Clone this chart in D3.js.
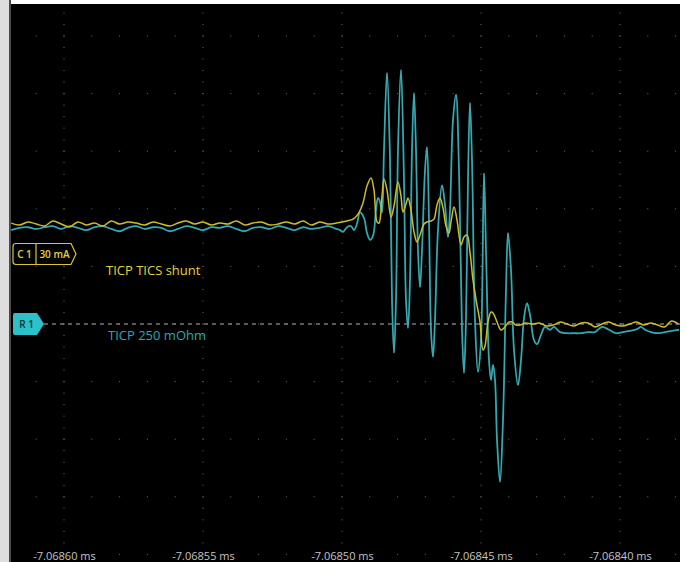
<!DOCTYPE html>
<html>
<head>
<meta charset="utf-8">
<script src="https://cdn.jsdelivr.net/npm/d3@7/dist/d3.min.js"></script>
<style>
  html, body { margin: 0; padding: 0; background: #ffffff; }
  svg { display: block; }
</style>
</head>
<body>
<script>
// Time origin of the record and the horizontal tick labels (ms)
const originMs = -7.06860;
const tickMs = [-7.06860, -7.06855, -7.06850, -7.06845, -7.06840];

// Channel 1: TICP TICS shunt, time in ns after originMs, current in mA (30 mA/div)
const shuntT = [
  -19, -16, -13, -10, -7, -4, -1, 2, 5, 8, 11, 14, 17, 20, 23, 26, 29, 32, 35, 38,
  41, 44, 47, 50, 53, 56, 59, 62, 65, 68, 71, 74, 77, 80, 83, 86, 89, 92, 95, 98,
  101.8, 103.96, 105.76, 107.55, 108.99, 110.43, 111.51, 112.59, 113.31, 114.39,
  115.11, 116.19, 117.63, 118.71, 120.14, 121.22, 121.94, 123.02, 123.74, 124.82,
  125.9, 126.98, 128.06, 129.5, 130.58, 132.01, 133.09, 134.17, 135.25, 136.33,
  137.41, 138.49, 139.21, 140.29, 141.37, 142.81, 143.88, 144.96, 146.04, 147.12,
  148.56, 149.64, 150.72, 151.44, 152.52, 153.6, 154.32, 155.76, 157.19, 158.63,
  160.07, 161.15, 162.59, 164.03, 166, 168.5, 171, 173.5, 176, 178.5, 181, 183.5,
  186, 188.5, 191, 193.5, 196, 198.5, 201, 203.5, 206, 208.5, 211, 213.5, 216,
  218.5, 221
];
const shuntMA = [
  16.1, 15.1, 16.7, 15.6, 14.6, 17.2, 15.6, 14.1, 16.7, 15.1, 16.1, 14.6, 17.2, 15.6, 16.7, 16.1, 15.1, 16.7, 15.6, 14.6,
  16.1, 17.2, 15.6, 16.7, 15.1, 16.1, 15.6, 17.2, 15.1, 16.1, 16.7, 15.1, 15.6, 16.7, 15.6, 17.2, 15.1, 16.7, 15.6, 16.1,
  17.2, 18.2, 20.8, 26.6, 35.4, 39.6, 33.3, 16.7, 16.1, 30.2,
  39.1, 33.3, 19.3, 25.0, 37.5, 30.2, 21.9, 26.0, 29.2, 22.9,
  11.5, 6.2, 9.9, 15.6, 16.7, 17.2, 18.2, 25.5, 29.2, 24.0,
  14.6, 10.9, 16.7, 24.5, 17.7, 4.7, 8.9, 9.9, 1.0, -13.5,
  -26.6, -35.4, -50.0, -47.9, -35.4, -30.2, -30.7, -35.4, -39.6, -38.0,
  -35.4, -35.4, -37.0, -37.0, -35.9, -36.5, -35.9, -37.5, -37.0, -35.4, -36.5, -37.5,
  -35.9, -35.9, -38.0, -36.5, -35.4, -37.0, -37.5, -36.5, -35.4, -37.0, -35.9, -37.0, -38.0,
  -34.9, -36.5
];

// Reference R1: TICP 250 mOhm, time in ns after originMs, amplitude in divisions
const ticpT = [
  -19, -16, -13, -10, -7, -4, -1, 2, 5, 8, 11, 14, 17, 20, 23, 26, 29, 32, 35, 38,
  41, 44, 47, 50, 53, 56, 59, 62, 65, 68, 71, 74, 77, 80, 83, 86, 89, 92, 95, 98,
  99.28, 100.36, 101.8, 103.24, 104.32, 105.4, 106.47, 107.91, 108.99, 110.07,
  111.15, 112.23, 112.95, 113.67, 114.39, 115.11, 116.19, 117.27, 117.99, 118.71,
  119.42, 120.14, 121.22, 122.3, 123.02, 123.74, 124.46, 125.18, 125.9, 126.62,
  127.34, 128.06, 128.78, 129.86, 130.58, 131.29, 132.01, 132.73, 133.45, 134.53,
  135.97, 137.05, 138.13, 138.85, 139.93, 141.01, 142.09, 143.17, 143.88, 144.6,
  145.32, 146.04, 146.76, 147.84, 148.92, 150.0, 151.08, 151.8, 152.88, 153.6,
  154.32, 155.04, 155.76, 156.83, 157.91, 158.99, 159.71, 160.79, 161.87, 163.31,
  164.39, 165.47, 166.55, 167.63, 169.06, 170.14, 171.58, 173.02, 174.82, 176.26,
  178.42, 180.94, 183.45, 185.97, 188.49, 191.01, 193.53, 196.04, 198.56, 201.08,
  203.6, 206.12, 207.55, 208.99, 211.15, 213.67, 216.19, 218.71, 221.22
];
const ticpDiv = [
  1.63, 1.67, 1.68, 1.65, 1.68, 1.70, 1.65, 1.70, 1.67, 1.63, 1.68, 1.70, 1.65, 1.61, 1.67, 1.70, 1.65, 1.68, 1.67, 1.61,
  1.65, 1.70, 1.67, 1.63, 1.68, 1.67, 1.70, 1.65, 1.61, 1.67, 1.68, 1.65, 1.70, 1.67, 1.63, 1.68, 1.65, 1.67, 1.70, 1.65,
  1.63, 1.60, 1.68, 1.70, 1.63, 1.74, 1.94, 1.84, 1.58, 1.46,
  1.53, 1.98, 2.19, 2.12, 1.94, 3.02, 4.36, 2.85, 0.42, -0.50,
  0.42, 3.02, 4.41, 2.50, 0.42, -0.07, 0.76, 3.02, 4.01, 3.02,
  1.28, 0.64, 1.28, 2.67, 3.07, 1.81, -0.10, -0.57, 0.07, 1.63,
  2.41, 2.07, 1.51, 1.98, 3.54, 3.98, 2.67, -0.10, -0.85, 0.07,
  2.50, 3.84, 2.85, 0.07, -0.83, -0.28, 2.62, 1.28, -0.63, -0.97,
  -0.71, -0.97, -2.01, -2.74, -1.67, 0.59, 1.58, 0.94, -0.45, -1.06,
  -0.63, 0.10, 0.36, 0.16, -0.28, -0.35, -0.19, -0.05, -0.10, -0.05,
  -0.14, -0.16, -0.16, -0.16, -0.14, -0.14, -0.05, -0.10, -0.16, -0.14,
  -0.12, -0.09, -0.05, -0.10, -0.14, -0.16, -0.14, -0.12, -0.10
];

const shuntLabel = "TICP TICS shunt";
const ticpLabel = "TICP 250 mOhm";
const shuntScaleMA = 30;

const W = 686, H = 562;
const plot = { left: 11, top: 4, right: 680, bottom: 562 };

const svg = d3.select("body").append("svg")
  .attr("width", W).attr("height", H)
  .style("font-family", "'Open Sans', 'Noto Sans', sans-serif");

// Outer frame
svg.append("rect").attr("x", 0).attr("y", 0).attr("width", W).attr("height", H).attr("fill", "#ffffff");
svg.append("rect").attr("x", 0).attr("y", 0).attr("width", 9).attr("height", H).attr("fill", "#dedede");
svg.append("rect").attr("x", 9).attr("y", 0).attr("width", 2).attr("height", H).attr("fill", "#4a4a4a");
svg.append("rect")
  .attr("x", plot.left).attr("y", plot.top)
  .attr("width", plot.right - plot.left).attr("height", plot.bottom - plot.top)
  .attr("fill", "#000000");

svg.append("clipPath").attr("id", "plotClip").append("rect")
  .attr("x", plot.left).attr("y", plot.top)
  .attr("width", plot.right - plot.left).attr("height", plot.bottom - plot.top);

// Scales: time (ns after origin), R1 divisions, C1 milliamps
const x = d3.scaleLinear().domain([0, 200]).range([64, 620]);
const yDiv = d3.scaleLinear().domain([0, 1]).range([324, 266.4]);
const yMA = d3.scaleLinear().domain([0, shuntScaleMA]).range([254, 196.4]);
const nsOf = ms => (ms - originMs) * 1e6;

// Graticule dots
const grid = svg.append("g").attr("clip-path", "url(#plotClip)").attr("fill", "#6e6e6e");
const majorNs = tickMs.map(nsOf);
const rowDivs = d3.range(-4, 6);
const colNs = d3.range(-10, 221, 10);
rowDivs.forEach(r => {
  colNs.forEach(t => {
    grid.append("rect").attr("x", x(t) - 0.5).attr("y", yDiv(r) - 0.5).attr("width", 1).attr("height", 1);
  });
});
const subDivs = d3.range(-44, 57, 2).map(v => v / 10);
majorNs.forEach(t => {
  subDivs.forEach(d => {
    grid.append("rect").attr("x", x(t) - 0.5).attr("y", yDiv(d) - 0.5).attr("width", 1).attr("height", 1);
  });
});

// R1 reference level
svg.append("line")
  .attr("x1", 44).attr("x2", plot.right)
  .attr("y1", yDiv(0)).attr("y2", yDiv(0))
  .attr("stroke", "#b4b4b4").attr("stroke-width", 1)
  .attr("stroke-dasharray", "4,4");

// Traces
const traces = svg.append("g").attr("clip-path", "url(#plotClip)");
const ticpPts = ticpT.map((t, i) => [t, ticpDiv[i]]);
const shuntPts = shuntT.map((t, i) => [t, shuntMA[i]]);

const lineDiv = d3.line().x(d => x(d[0])).y(d => yDiv(d[1])).curve(d3.curveCatmullRom.alpha(0.5));
const lineMA = d3.line().x(d => x(d[0])).y(d => yMA(d[1])).curve(d3.curveCatmullRom.alpha(0.5));

traces.append("path").datum(ticpPts).attr("d", lineDiv)
  .attr("fill", "none").attr("stroke", "#1f9ea8").attr("stroke-width", 1.8).attr("stroke-linejoin", "round");
traces.append("path").datum(ticpPts).attr("d", lineDiv)
  .attr("fill", "none").attr("stroke", "#6fb6bb").attr("stroke-width", 0.6).attr("stroke-opacity", 0.7);

traces.append("path").datum(shuntPts).attr("d", lineMA)
  .attr("fill", "none").attr("stroke", "#cdbd2a").attr("stroke-width", 1.5).attr("stroke-linejoin", "round");

// Trace labels
svg.append("text").attr("x", 106).attr("y", 275).attr("fill", "#e3d23c")
  .attr("font-size", 13).text(shuntLabel);
svg.append("text").attr("x", 108).attr("y", 340).attr("fill", "#22aab4")
  .attr("font-size", 13).text(ticpLabel);

// C1 channel marker
const c1y = yMA(0);
const c1 = svg.append("g");
c1.append("path")
  .attr("d", `M16,${c1y - 10.5} H71 L76,${c1y} L71,${c1y + 10.5} H16 Q13,${c1y + 10.5} 13,${c1y + 7.5} V${c1y - 7.5} Q13,${c1y - 10.5} 16,${c1y - 10.5} Z`)
  .attr("fill", "#000").attr("stroke", "#d9c835").attr("stroke-width", 1.2);
c1.append("line").attr("x1", 36).attr("x2", 36).attr("y1", c1y - 10.5).attr("y2", c1y + 10.5)
  .attr("stroke", "#d9c835").attr("stroke-width", 1.2);
c1.append("text").attr("x", 24.5).attr("y", c1y + 3.6).attr("text-anchor", "middle")
  .attr("fill", "#e3d23c").attr("font-size", 10).attr("font-weight", 600).text("C 1");
c1.append("text").attr("x", 54.5).attr("y", c1y + 3.6).attr("text-anchor", "middle")
  .attr("fill", "#e3d23c").attr("font-size", 10).attr("font-weight", 600).text(shuntScaleMA + " mA");

// R1 reference marker
const r1y = yDiv(0);
const r1 = svg.append("g");
r1.append("path")
  .attr("d", `M15,${r1y - 11} H37 L44,${r1y} L37,${r1y + 11} H15 Q13,${r1y + 11} 13,${r1y + 9} V${r1y - 9} Q13,${r1y - 11} 15,${r1y - 11} Z`)
  .attr("fill", "#2cc0c8");
r1.append("text").attr("x", 26.5).attr("y", r1y + 3.6).attr("text-anchor", "middle")
  .attr("fill", "#0b3336").attr("font-size", 10).attr("font-weight", 600).text("R 1");

// Time axis labels
const xMs = d3.scaleLinear().domain([originMs, originMs + 200e-6]).range(x.range());
const axis = d3.axisBottom(xMs)
  .tickValues(tickMs)
  .tickFormat(d => d.toFixed(5) + " ms")
  .tickSize(0).tickPadding(0);
const axG = svg.append("g").attr("transform", "translate(0,552)").call(axis);
axG.select(".domain").remove();
axG.selectAll("text")
  .attr("fill", "#c4c4c4").attr("font-size", 11)
  .style("font-family", "'Open Sans', 'Noto Sans', sans-serif");
</script>
</body>
</html>
